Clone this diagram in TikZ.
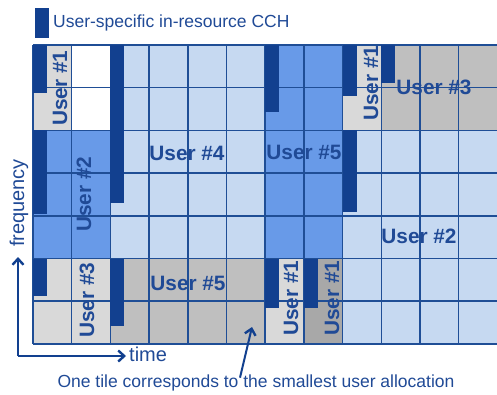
\documentclass[tikz,border=0pt]{standalone}
\usepackage{fontspec}
\setmainfont{Liberation Sans}
\usepackage{tikz}
\usetikzlibrary{arrows.meta,calc,positioning}

\definecolor{ccbar}{RGB}{18,64,143}
\definecolor{gridblue}{RGB}{31,78,150}
\definecolor{txtblue}{RGB}{32,74,150}
\definecolor{lightblue}{RGB}{198,217,241}
\definecolor{medblue}{RGB}{104,154,232}
\definecolor{lightgray}{RGB}{217,217,217}
\definecolor{midgray}{RGB}{191,191,191}
\definecolor{darkgray}{RGB}{168,168,168}

\tikzset{
  lbl/.style={font=\fontsize{20.8}{24}\selectfont\bfseries,text=txtblue,inner sep=0pt},
  vlbl/.style={lbl,rotate=90},
  plain/.style={font=\fontsize{17.5}{20}\selectfont,text=txtblue,inner sep=0pt},
  axis/.style={line width=2.4pt,draw=ccbar,-{Straight Barb[length=6pt,width=11pt,line width=2.4pt]}}
}

\begin{document}
\begin{tikzpicture}[x=1pt,y=-1pt]
  \useasboundingbox (0,0) rectangle (497,394);

  % Legend
  \node[fill=ccbar,minimum width=14pt,minimum height=30pt,inner sep=0pt] (legbar) at (42,23) {};
  \node[plain,anchor=west] (legtext) at (53,23) {User-specific in-resource CCH};

  % Time-frequency grid (cell units)
  \begin{scope}[shift={(33,45)},x=38.7pt,y=-42.7pt]
    % Allocations
    \fill[lightgray] (0,0) rectangle (1,2);
    \fill[lightgray] (8,0) rectangle (9,2);
    \fill[lightgray] (0,5) rectangle (2,7);
    \fill[lightgray] (6,5) rectangle (7,7);
    \fill[lightblue] (2,0) rectangle (6,5);
    \fill[lightblue] (8,2) rectangle (12,7);
    \fill[medblue] (6,0) rectangle (8,5);
    \fill[medblue] (0,2) rectangle (2,5);
    \fill[midgray] (9,0) rectangle (12,2);
    \fill[midgray] (2,5) rectangle (6,7);
    \fill[darkgray] (7,5) rectangle (8,7);

    % Tiles
    \foreach \c in {0,...,11}
      \draw[gridblue,line width=1.5pt] (\c,0) -- (\c,7);
    \foreach \r in {0,...,7}
      \draw[gridblue,line width=1.5pt] (0,\r) -- (12,\r);

    % CCH bars
    \foreach \c/\ra/\rb in {0/0/1.12, 2/0/3.70, 6/0/1.57, 8/0/1.19, 9/0/0.89,
                            0/2/3.96, 8/2/3.91,
                            0/5/5.88, 2/5/6.58, 6/5/6.16, 7/5/6.16}
      \fill[ccbar] (\c,\ra) rectangle (\c+0.362,\rb);
  \end{scope}

  % User labels
  \node[vlbl] (u1a) at (60,88) {User \#1};
  \node[vlbl] (u1b) at (371,83) {User \#1};
  \node[lbl]  (u3a) at (434,87) {User \#3};
  \node[lbl]  (u4)  at (187,153) {User \#4};
  \node[lbl]  (u5a) at (304,152) {User \#5};
  \node[vlbl] (u2a) at (84,194) {User \#2};
  \node[lbl]  (u2b) at (419,236) {User \#2};
  \node[vlbl] (u3b) at (87,300) {User \#3};
  \node[lbl]  (u5b) at (188,283) {User \#5};
  \node[vlbl] (u1c) at (291,298) {User \#1};
  \node[vlbl] (u1d) at (332,298) {User \#1};

  % Axes
  \coordinate (origin) at (18,356);
  \coordinate (freqtip) at (18,257);
  \coordinate (timetip) at (126,356);
  \draw[axis] (origin) -- (freqtip);
  \draw[axis] (origin) -- (timetip);
  \node[font=\fontsize{20}{24}\selectfont,text=txtblue,rotate=90,inner sep=0pt] (freq) at (19,203) {frequency};
  \node[font=\fontsize{20}{24}\selectfont,text=txtblue,inner sep=0pt,anchor=west] (time) at (129,354) {time};

  % Smallest allocation note
  \node[plain] (note) at (256,383) {One tile corresponds to the smallest user allocation};
  \coordinate (tiletip) at (252,327);
  \draw[axis,line width=2pt] ([xshift=-16pt,yshift=-3pt]note.north) -- (tiletip);
\end{tikzpicture}
\end{document}
